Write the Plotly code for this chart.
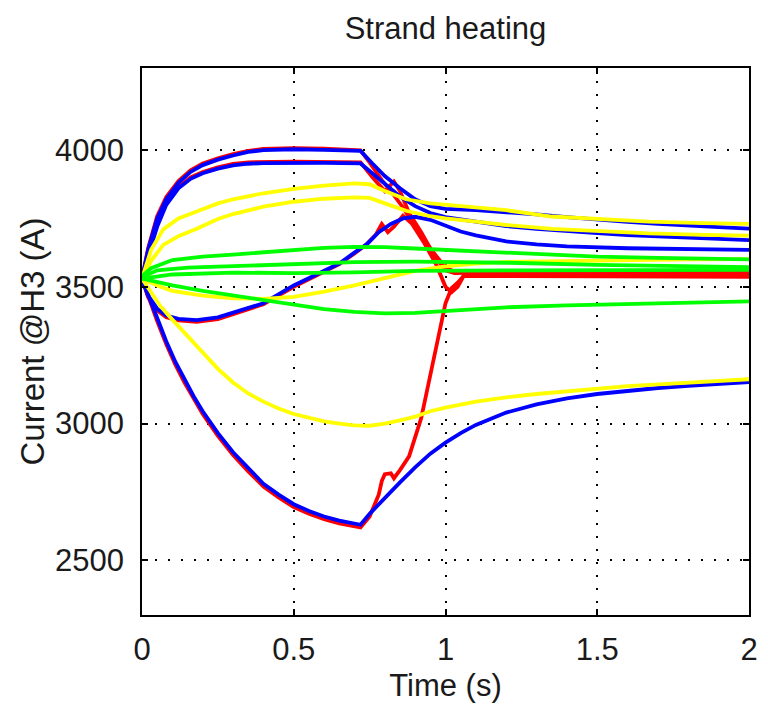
import plotly.graph_objects as go

# ---------------- data ----------------
# red family
R1_t = [0, 0.02, 0.05, 0.08, 0.12, 0.16, 0.2, 0.25, 0.3, 0.35, 0.4, 0.5, 0.6, 0.72, 0.75, 0.79, 0.82, 0.86, 0.9, 0.95, 1.0, 1.03, 1.1, 1.5, 2.0]
R1_i = [3530, 3640, 3758, 3828, 3887, 3926, 3951, 3970, 3985, 3997, 4004, 4007, 4005, 3999, 3955, 3890, 3850, 3790, 3720, 3640, 3570, 3556, 3558, 3556, 3553]
R2_t = [0, 0.02, 0.05, 0.08, 0.12, 0.16, 0.2, 0.25, 0.3, 0.35, 0.5, 0.6, 0.72, 0.76, 0.8, 0.83, 0.85, 0.88, 0.92, 0.96, 1.0, 1.03, 1.1, 1.5, 2.0]
R2_i = [3530, 3620, 3726, 3806, 3865, 3900, 3920, 3937, 3949, 3955, 3958, 3958, 3955, 3900, 3850, 3885, 3850, 3770, 3700, 3620, 3560, 3550, 3552, 3550, 3547]
R3_t = [0, 0.02, 0.05, 0.08, 0.12, 0.18, 0.25, 0.3, 0.4, 0.5, 0.6, 0.65, 0.7, 0.74, 0.77, 0.79, 0.81, 0.83, 0.86, 0.89, 0.93, 0.97, 1.0, 1.02, 1.04, 1.06, 1.1, 1.5, 2.0]
R3_i = [3530, 3462, 3414, 3389, 3377, 3372, 3382, 3399, 3436, 3500, 3557, 3583, 3622, 3655, 3690, 3730, 3700, 3720, 3760, 3730, 3660, 3580, 3500, 3480, 3500, 3540, 3546, 3544, 3541]
R4_t = [0, 0.02, 0.05, 0.08, 0.11, 0.14, 0.17, 0.2, 0.25, 0.3, 0.35, 0.4, 0.45, 0.5, 0.55, 0.6, 0.65, 0.7, 0.72, 0.75, 0.78, 0.79, 0.8, 0.82, 0.83, 0.85, 0.88, 0.92, 0.95, 0.98, 1.0, 1.02, 1.04, 1.06, 1.1, 1.5, 2.0]
R4_i = [3530, 3465, 3375, 3290, 3215, 3150, 3090, 3035, 2955, 2885, 2825, 2770, 2730, 2695, 2670, 2650, 2635, 2622, 2620, 2660, 2740, 2790, 2815, 2818, 2800, 2830, 2880, 3020, 3180, 3340, 3440, 3495, 3515, 3540, 3540, 3538, 3536]

# blue family
B1_t = [0, 0.02, 0.05, 0.08, 0.12, 0.16, 0.2, 0.25, 0.3, 0.35, 0.4, 0.5, 0.6, 0.72, 0.76, 0.8, 0.85, 0.9, 0.95, 1.0, 1.1, 1.2, 1.3, 1.4, 1.5, 1.6, 1.7, 1.8, 1.9, 2.0]
B1_i = [3530, 3635, 3750, 3820, 3880, 3920, 3945, 3965, 3980, 3993, 4000, 4003, 4001, 3997, 3950, 3905, 3860, 3820, 3795, 3785, 3780, 3773, 3765, 3755, 3745, 3737, 3730, 3723, 3718, 3713]
B2_t = [0, 0.02, 0.05, 0.08, 0.12, 0.16, 0.2, 0.25, 0.3, 0.35, 0.4, 0.5, 0.6, 0.72, 0.76, 0.8, 0.85, 0.9, 0.95, 1.0, 1.1, 1.2, 1.3, 1.4, 1.5, 1.6, 1.7, 1.8, 1.9, 2.0]
B2_i = [3530, 3615, 3720, 3800, 3860, 3895, 3915, 3932, 3944, 3950, 3952, 3953, 3953, 3951, 3915, 3875, 3830, 3795, 3770, 3755, 3737, 3722, 3712, 3703, 3696, 3689, 3684, 3679, 3675, 3671]
B3_t = [0, 0.02, 0.05, 0.08, 0.12, 0.18, 0.25, 0.3, 0.4, 0.5, 0.6, 0.65, 0.7, 0.74, 0.78, 0.82, 0.86, 0.9, 0.95, 1.0, 1.05, 1.1, 1.2, 1.3, 1.4, 1.6, 1.8, 2.0]
B3_i = [3530, 3468, 3420, 3395, 3383, 3378, 3388, 3405, 3440, 3505, 3560, 3585, 3625, 3655, 3700, 3730, 3750, 3756, 3745, 3722, 3702, 3688, 3666, 3655, 3648, 3641, 3637, 3635]
B4_t = [0, 0.02, 0.05, 0.08, 0.11, 0.14, 0.17, 0.2, 0.25, 0.3, 0.35, 0.4, 0.45, 0.5, 0.55, 0.6, 0.65, 0.7, 0.72, 0.75, 0.8, 0.85, 0.9, 0.95, 1.0, 1.05, 1.1, 1.2, 1.3, 1.4, 1.5, 1.6, 1.7, 1.8, 1.9, 2.0]
B4_i = [3530, 3472, 3385, 3300, 3225, 3160, 3100, 3045, 2965, 2895, 2835, 2780, 2740, 2705, 2680, 2660, 2645, 2632, 2630, 2670, 2730, 2785, 2840, 2890, 2930, 2965, 2995, 3040, 3070, 3092, 3108, 3120, 3130, 3138, 3145, 3152]

# yellow family
Y1_t = [0, 0.03, 0.07, 0.12, 0.18, 0.25, 0.3, 0.4, 0.5, 0.6, 0.7, 0.75, 0.8, 0.87, 0.95, 1.0, 1.1, 1.2, 1.35, 1.5, 1.67, 1.85, 2.0]
Y1_i = [3530, 3635, 3710, 3750, 3775, 3805, 3820, 3842, 3858, 3870, 3878, 3875, 3850, 3820, 3805, 3800, 3790, 3780, 3757, 3747, 3738, 3733, 3730]
Y2_t = [0, 0.03, 0.07, 0.12, 0.18, 0.25, 0.3, 0.4, 0.5, 0.6, 0.7, 0.75, 0.8, 0.87, 0.95, 1.0, 1.1, 1.2, 1.35, 1.5, 1.67, 1.85, 2.0]
Y2_i = [3530, 3595, 3653, 3685, 3712, 3748, 3766, 3793, 3811, 3822, 3827, 3825, 3805, 3778, 3758, 3750, 3738, 3726, 3712, 3704, 3695, 3690, 3687]
Y3_t = [0, 0.03, 0.06, 0.1, 0.15, 0.2, 0.25, 0.3, 0.35, 0.4, 0.45, 0.5, 0.55, 0.6, 0.65, 0.7, 0.75, 0.8, 0.85, 0.9, 0.95, 1.0, 1.1, 1.2, 1.3, 1.4, 1.5, 1.6, 1.7, 1.8, 1.9, 2.0]
Y3_i = [3530, 3478, 3430, 3380, 3320, 3260, 3200, 3150, 3110, 3080, 3055, 3035, 3020, 3008, 3000, 2993, 2992, 3000, 3012, 3025, 3045, 3058, 3080, 3096, 3108, 3118, 3130, 3137, 3143, 3149, 3155, 3162]
Y4_t = [0, 0.05, 0.1, 0.2, 0.3, 0.4, 0.5, 0.6, 0.7, 0.8, 0.9, 1.0, 1.1, 1.2, 1.4, 1.6, 1.8, 2.0]
Y4_i = [3530, 3505, 3485, 3468, 3458, 3456, 3463, 3482, 3505, 3530, 3558, 3575, 3585, 3591, 3595, 3598, 3600, 3601]

# green family
G1_t = [0, 0.03, 0.1, 0.2, 0.3, 0.4, 0.5, 0.6, 0.7, 0.8, 0.9, 1.0, 1.1, 1.2, 1.35, 1.5, 1.7, 2.0]
G1_i = [3540, 3568, 3598, 3610, 3618, 3627, 3635, 3642, 3646, 3645, 3640, 3635, 3628, 3622, 3615, 3610, 3606, 3600]
G2_t = [0, 0.05, 0.15, 0.3, 0.5, 0.7, 0.9, 1.2, 1.5, 2.0]
G2_i = [3535, 3560, 3570, 3575, 3585, 3590, 3592, 3588, 3580, 3572]
G3_t = [0, 0.1, 0.3, 0.5, 0.7, 0.9, 1.2, 1.5, 2.0]
G3_i = [3530, 3545, 3552, 3550, 3553, 3558, 3560, 3562, 3562]
G4_t = [0, 0.05, 0.1, 0.2, 0.3, 0.4, 0.5, 0.6, 0.7, 0.8, 0.9, 1.0, 1.2, 1.4, 1.6, 1.8, 2.0]
G4_i = [3530, 3518, 3505, 3485, 3468, 3452, 3435, 3418, 3408, 3403, 3405, 3412, 3425, 3432, 3437, 3443, 3447]

X_TICKS = [0, 0.5, 1, 1.5, 2]
X_TICK_TEXT = ["0", "0.5", "1", "1.5", "2"]
Y_TICKS = [2500, 3000, 3500, 4000]
Y_TICK_TEXT = ["2500", "3000", "3500", "4000"]

RED, BLUE, YELLOW, GREEN = "#FF0000", "#0000FF", "#FFFF00", "#00FF00"

groups = [
    (RED, [(R1_t, R1_i), (R2_t, R2_i), (R3_t, R3_i), (R4_t, R4_i)]),
    (BLUE, [(B1_t, B1_i), (B2_t, B2_i), (B3_t, B3_i), (B4_t, B4_i)]),
    (YELLOW, [(Y1_t, Y1_i), (Y2_t, Y2_i), (Y3_t, Y3_i), (Y4_t, Y4_i)]),
    (GREEN, [(G1_t, G1_i), (G2_t, G2_i), (G3_t, G3_i), (G4_t, G4_i)]),
]

fig = go.Figure()
for color, curves in groups:
    for t, i in curves:
        fig.add_trace(go.Scatter(x=t, y=i, mode="lines",
                                 line=dict(color=color, width=3.8),
                                 hoverinfo="skip"))

FONT = "Liberation Sans, Arial, sans-serif"
TXT = "#1a1a1a"

axis_common = dict(
    automargin=False,
    showgrid=True, gridcolor="black", gridwidth=1.5, griddash="2px,11px",
    showline=True, linecolor="black", linewidth=1.5, mirror="ticks",
    ticks="inside", ticklen=6, tickcolor="black", tickwidth=1.5,
    zeroline=False, tickfont=dict(family=FONT, size=31, color=TXT),
)

fig.update_xaxes(range=[0, 2], tickvals=X_TICKS, ticktext=X_TICK_TEXT,
                 ticklabelstandoff=6,
                 title=dict(text="Time (s)", font=dict(family=FONT, size=31, color=TXT), standoff=8),
                 **axis_common)
fig.update_yaxes(range=[2300, 4300], tickvals=Y_TICKS, ticktext=Y_TICK_TEXT,
                 ticklabelstandoff=10,
                 title=dict(text="Current @H3 (A)", font=dict(family=FONT, size=33, color=TXT), standoff=1),
                 **axis_common)

fig.update_layout(
    template="none",
    width=768, height=709,
    margin=dict(l=142, r=19, t=68, b=94, autoexpand=False),
    plot_bgcolor="white", paper_bgcolor="white",
    showlegend=False,
    title=dict(text="Strand heating", x=0.5, xref="paper", xanchor="center",
               y=1 - 28 / 709, yref="container", yanchor="middle",
               font=dict(family=FONT, size=31, color=TXT)),
)

fig.write_html("out.html")
